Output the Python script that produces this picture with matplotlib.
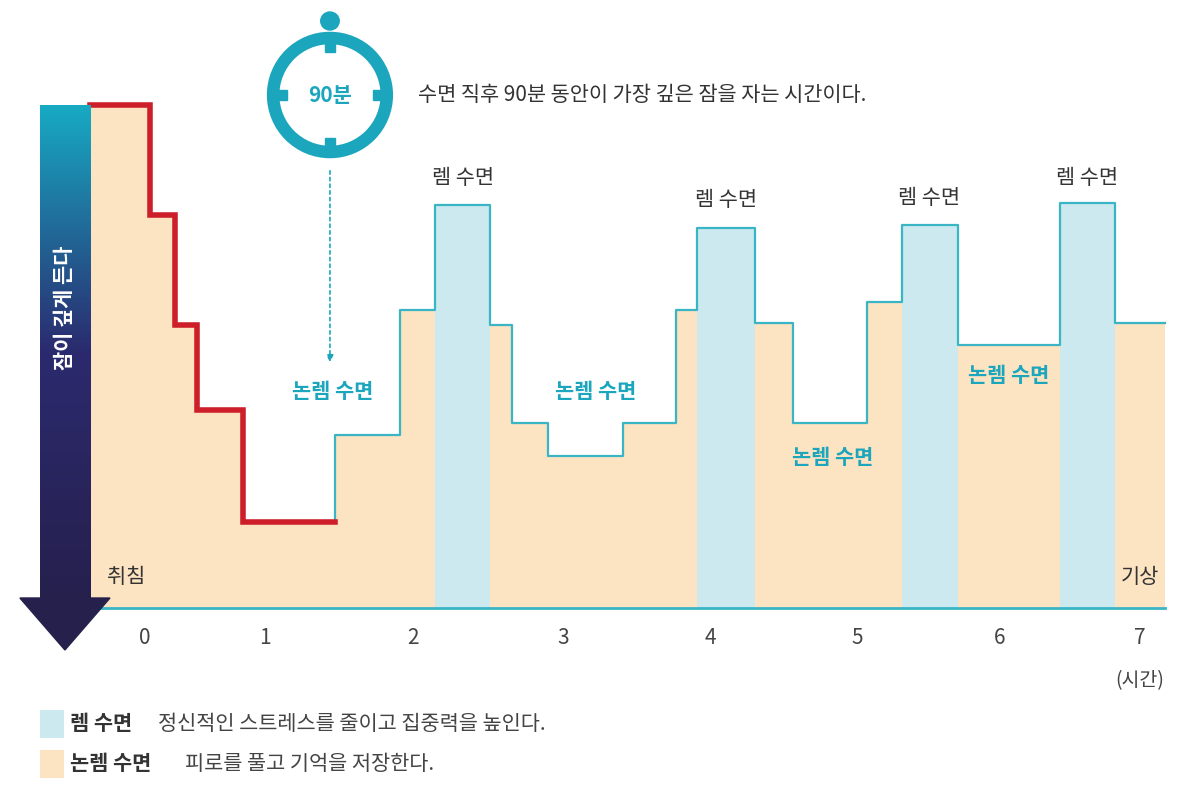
import matplotlib.pyplot as plt
import numpy as np
from matplotlib.patches import Ellipse, Rectangle, Polygon
from matplotlib.colors import LinearSegmentedColormap

plt.rcParams["font.family"] = ["Noto Sans CJK KR", "Noto Sans CJK JP", "Noto Sans CJK SC", "DejaVu Sans"]

# step edges in hours and sleep depth (arbitrary units, bigger = shallower)
edges = [-0.387, 0.035, 0.211, 0.366, 0.690, 1.337, 1.795, 2.041, 2.428, 2.583,
         2.836, 3.364, 3.737, 3.885, 4.293, 4.560, 5.081, 5.327, 5.721, 6.439, 6.826, 7.178]
levels = [503, 393, 283, 198, 86, 173, 298, 403, 283, 185, 152, 185, 298, 380,
          285, 185, 306, 383, 263, 405, 285]
is_rem = [False] * 7 + [True] + [False] * 5 + [True] + [False] * 3 + [True] + [False] + [True] + [False]
red_count = 5

tick_pos = [0, 0.845, 1.886, 2.94, 3.976, 5.01, 6.017, 7.0]
tick_labels = ["0", "1", "2", "3", "4", "5", "6", "7"]

rem_labels = [(2.235, 430), (4.09, 408), (5.52, 410), (6.63, 430)]
nrem_labels = [(1.323, 216), (3.17, 216), (4.84, 150), (6.08, 233)]

ORANGE = "#fce3c1"
BLUE = "#cbe9ef"
CYAN = "#3ab5c6"
RED = "#cc1f2a"
TEAL = "#1ba6bd"

fig = plt.figure(figsize=(11.81, 7.99), dpi=100)
ax = fig.add_axes([0, 0, 1, 1])
ax.set_xlim(-1.020, 7.291)
ax.set_ylim(-191, 608)
ax.axis("off")

for i, h in enumerate(levels):
    x0, x1 = edges[i], edges[i + 1]
    ax.add_patch(Rectangle((x0, 0), x1 - x0, h, color=BLUE if is_rem[i] else ORANGE, lw=0))

# cyan step line for later part
xs = np.repeat(edges[red_count:], 2)[1:-1]
ys = np.repeat(levels[red_count:], 2)
ax.plot(np.r_[edges[red_count], xs], np.r_[levels[red_count - 1], ys], color=CYAN, lw=1.6)
# red step line for the first descent
xr = np.repeat(edges[:red_count + 1], 2)[1:-1]
yr = np.repeat(levels[:red_count], 2)
ax.plot(xr, yr, color=RED, lw=4, solid_joinstyle="miter")
ax.plot([edges[0], edges[-1]], [0, 0], color=CYAN, lw=2)

for p, t in zip(tick_pos, tick_labels):
    ax.text(p, -30, t, ha="center", va="center", fontsize=15, color="#444444")
ax.text(7.0, -73, "(시간)", ha="center", va="center", fontsize=14, color="#444444")
ax.text(-0.13, 31, "취침", ha="center", va="center", fontsize=15, color="#333333")
ax.text(7.0, 31, "기상", ha="center", va="center", fontsize=15, color="#333333")

for x, y in rem_labels:
    ax.text(x, y, "렘 수면", ha="center", va="center", fontsize=15, color="#333333")
for x, y in nrem_labels:
    ax.text(x, y, "논렘 수면", ha="center", va="center", fontsize=15, color=TEAL, fontweight="bold")

# gradient arrow on the left
cmap = LinearSegmentedColormap.from_list("d", ["#17aac3", "#2b2a6e", "#26204d"])
grad = np.linspace(0, 1, 256).reshape(-1, 1)
ax.imshow(grad, cmap=cmap, aspect="auto", extent=(-0.739, -0.387, 8, 503), zorder=2)
ax.add_patch(Polygon([(-0.88, 10), (-0.246, 10), (-0.563, -42)], closed=True,
                     color="#26204d", zorder=2))
ax.text(-0.563, 300, "잠이 깊게 든다", rotation=90, ha="center", va="center",
        fontsize=15, color="white", fontweight="bold", zorder=3)

# clock icon
cx, cy = 1.302, 513
ax.add_patch(Ellipse((cx, cy), 0.8, 114, fill=False, ec=TEAL, lw=9))
ax.add_patch(Ellipse((cx, 587), 0.13, 18, color=TEAL))
for dx, dy, w, h in [(0, 50, 0.07, 14), (0, -50, 0.07, 14), (0.35, 0, 0.1, 10), (-0.35, 0, 0.1, 10)]:
    ax.add_patch(Rectangle((cx + dx - w / 2, cy + dy - h / 2), w, h, color=TEAL))
ax.text(cx, cy, "90분", ha="center", va="center", fontsize=15, color=TEAL, fontweight="bold")
ax.annotate("", xy=(cx, 243), xytext=(cx, 440),
            arrowprops=dict(arrowstyle="-|>", color=TEAL, ls=(0, (2, 2)), lw=1.2))
ax.text(1.92, 513, "수면 직후 90분 동안이 가장 깊은 잠을 자는 시간이다.", ha="left",
        va="center", fontsize=15, color="#333333")

# legend
ax.add_patch(Rectangle((-0.74, -130), 0.17, 28, color=BLUE, lw=0))
ax.add_patch(Rectangle((-0.74, -170), 0.17, 28, color=ORANGE, lw=0))
ax.text(-0.53, -116, "렘 수면", ha="left", va="center", fontsize=15, color="#333333", fontweight="bold")
ax.text(0.09, -116, "정신적인 스트레스를 줄이고 집중력을 높인다.", ha="left", va="center",
        fontsize=15, color="#444444")
ax.text(-0.53, -156, "논렘 수면", ha="left", va="center", fontsize=15, color="#333333", fontweight="bold")
ax.text(0.28, -156, "피로를 풀고 기억을 저장한다.", ha="left", va="center",
        fontsize=15, color="#444444")

fig.savefig("out.png", dpi=100)
